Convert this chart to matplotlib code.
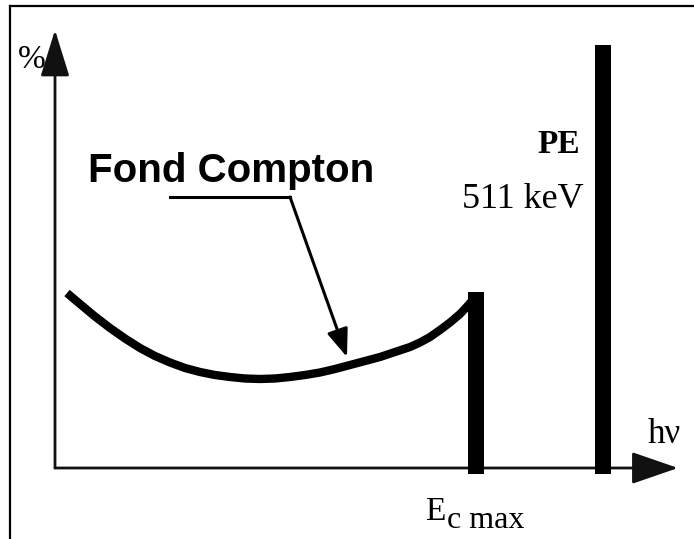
import matplotlib
matplotlib.use("Agg")
import matplotlib.pyplot as plt
from matplotlib.lines import Line2D

# schematic gamma spectrum, units = px offsets from the axis origin
compton_x = [12, 25, 40, 55, 70, 85, 100, 115, 130, 145, 160, 175, 190, 205, 220,
             235, 250, 265, 280, 295, 310, 325, 340, 355, 365, 375, 385, 395, 405, 413, 421]
compton_y = [175, 164, 151.5, 140, 129.5, 120, 112, 105.5, 100, 96, 93, 91, 89.5, 89, 89.5,
             91, 93, 95.5, 99, 103, 107, 111, 116, 121, 125.5, 131, 138, 145.5, 154, 162.5, 172]

peak_names = ["E_c max", "PE 511 keV"]
peak_x = [421, 548]
peak_top = [176, 423]
peak_bottom = -6

serif = "Liberation Serif"
sans = "Liberation Sans"

fig = plt.figure(figsize=(6.94, 5.39), dpi=100)
ax = fig.add_axes([0, 0, 1, 1])
ax.set_xlim(-55, 639)
ax.set_ylim(-71, 468)
ax.axis("off")

# outer frame (only left and top are visible in the picture)
fig.add_artist(Line2D([10 / 694, 10 / 694], [0, 1 - 6 / 539], color="black", lw=1.6))
fig.add_artist(Line2D([10 / 694, 1], [1 - 6 / 539, 1 - 6 / 539], color="black", lw=1.6))

# axes arrows
ax.annotate("", xy=(0, 438), xytext=(0, 0),
            arrowprops=dict(arrowstyle="-|>,head_length=29,head_width=9",
                            mutation_scale=1, lw=2, color="#111111",
                            shrinkA=0, shrinkB=0))
ax.annotate("", xy=(623, 0), xytext=(0, 0),
            arrowprops=dict(arrowstyle="-|>,head_length=29,head_width=10",
                            mutation_scale=1, lw=2, color="#111111",
                            shrinkA=0, shrinkB=0))

# compton background + peaks
ax.plot(compton_x, compton_y, color="black", lw=6, solid_capstyle="butt",
        solid_joinstyle="round")
ax.bar(peak_x, [t - peak_bottom for t in peak_top], bottom=peak_bottom,
       width=16, color="black", zorder=3)

# label arrow
ax.plot([115, 235], [271, 271], color="black", lw=2.2)
ax.annotate("", xy=(292, 111), xytext=(235, 271),
            arrowprops=dict(arrowstyle="-|>,head_length=17,head_width=6.5",
                            mutation_scale=1, lw=2.2, color="black",
                            shrinkA=0, shrinkB=0))

ax.text(33, 286, "Fond Compton", family=sans, weight="bold", fontsize=29,
        ha="left", va="baseline")
ax.text(525, 315, "PE", family=serif, weight="bold", fontsize=24,
        ha="right", va="baseline")
ax.text(407, 260, "511 keV", family=serif, fontsize=26, ha="left", va="baseline")
ax.text(-37, 400, "%", family=serif, fontsize=24, ha="left", va="baseline")
ax.text(593, 25, "hν", family=serif, fontsize=25, ha="left", va="baseline")
ax.text(370, -52, "E", family=serif, fontsize=24, ha="left", va="baseline")
ax.text(392, -60, "c max", family=serif, fontsize=23, ha="left", va="baseline")

fig.savefig("out.png", dpi=100)
